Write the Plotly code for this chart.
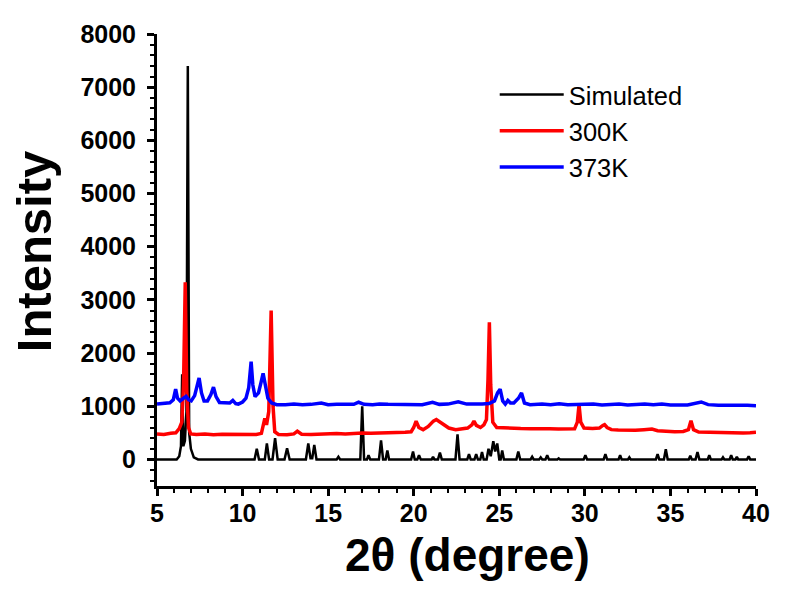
import plotly.graph_objects as go

# ---- Simulated pattern (2theta, intensity) ----
sim_x = [5.0, 6.15, 6.3, 6.4, 6.47, 6.54, 6.63, 6.72, 6.8, 6.88, 6.98, 7.15, 7.4,
         10.7, 10.83, 10.96, 11.3, 11.42, 11.55, 11.75, 11.9, 12.05, 12.45, 12.6, 12.75,
         13.7, 13.84, 13.97, 14.07, 14.19, 14.32, 15.5, 15.6, 15.7, 16.88, 16.99, 17.1,
         17.27, 17.36, 17.46, 17.97, 18.09, 18.21, 18.36, 18.46, 18.56, 19.85, 19.96, 20.06,
         20.21, 20.31, 20.41, 21.05, 21.13, 21.21, 21.42, 21.53, 21.64, 22.44, 22.56, 22.68,
         23.13, 23.23, 23.33, 23.55, 23.65, 23.75, 23.89, 23.99, 24.09, 24.26, 24.37, 24.5,
         24.65, 24.76, 24.88, 25.0, 25.08, 25.17, 25.27, 26.0, 26.11, 26.22, 26.83, 26.92,
         27.01, 27.33, 27.42, 27.51, 27.7, 27.8, 27.9, 28.4, 28.47, 28.55, 29.93, 30.03,
         30.13, 31.1, 31.2, 31.3, 31.97, 32.06, 32.15, 32.52, 32.6, 32.68, 34.15, 34.25,
         34.35, 34.62, 34.73, 34.84, 36.07, 36.16, 36.25, 36.47, 36.58, 36.69, 37.18, 37.27,
         37.36, 37.99, 38.07, 38.15, 38.46, 38.55, 38.64, 38.8, 38.88, 38.96, 39.48, 39.57,
         39.66, 40.0]
sim_y = [0, 0, 60, 250, 1600, 250, 350, 900, 7400, 500, 200, 40, 0,
         0, 200, 0, 0, 300, 0, 0, 400, 0, 0, 210, 0,
         0, 300, 20, 20, 270, 0, 0, 50, 0, 0, 1000, 0,
         0, 80, 0, 0, 360, 0, 0, 170, 0, 0, 150, 0,
         0, 80, 0, 0, 50, 0, 0, 130, 0, 0, 470, 0,
         0, 100, 0, 0, 100, 0, 0, 140, 0, 0, 200, 60,
         340, 150, 300, 0, 0, 170, 0, 0, 150, 0, 0, 50,
         0, 0, 40, 0, 0, 80, 0, 0, 20, 0, 0, 80,
         0, 0, 100, 0, 0, 80, 0, 0, 40, 0, 0, 100,
         0, 0, 190, 0, 0, 70, 0, 0, 140, 0, 0, 80,
         0, 0, 40, 0, 0, 80, 0, 0, 50, 0, 0, 60,
         0, 0]

# ---- 300K pattern ----
k300_x = [5.0, 5.4, 5.8, 6.1, 6.3, 6.45, 6.55, 6.65, 6.74, 6.84, 6.97, 7.3, 7.8, 8.3, 8.8,
          9.3, 9.8, 10.3, 10.8, 11.1, 11.23, 11.3, 11.4, 11.53, 11.67, 11.78, 11.88, 12.1,
          12.6, 13.0, 13.2, 13.45, 14.0, 14.5, 15.0, 15.5, 16.0, 16.5, 17.0, 17.5, 18.0,
          18.5, 19.0, 19.5, 19.85, 20.0, 20.14, 20.3, 20.55, 20.85, 21.15, 21.32, 21.55,
          21.75, 22.05, 22.45, 22.85, 23.15, 23.4, 23.52, 23.66, 23.9, 24.1, 24.25, 24.34,
          24.42, 24.5, 24.62, 24.85, 25.25, 25.75, 26.25, 26.85, 27.45, 27.95, 28.45, 28.95,
          29.4, 29.56, 29.66, 29.76, 29.95, 30.45, 30.85, 31.05, 31.15, 31.3, 31.55, 31.95,
          32.45, 32.95, 33.45, 33.92, 34.25, 34.75, 35.25, 35.75, 36.05, 36.2, 36.35, 36.65,
          37.15, 37.75, 38.25, 38.75, 39.25, 39.65, 40.0]
k300_y = [480, 470, 490, 500, 580, 700, 1400, 3330, 1300, 600, 480, 470, 480, 465, 475,
          470, 465, 475, 470, 490, 700, 770, 650, 900, 2800, 1000, 520, 470,
          465, 480, 530, 475, 470, 480, 475, 485, 480, 490, 495, 490, 500,
          495, 505, 510, 520, 600, 720, 600, 560, 620, 720, 750, 700,
          650, 590, 560, 570, 590, 650, 720, 640, 600, 650, 750, 1500,
          2580, 1400, 700, 600, 590, 585, 580, 578, 585, 575, 572, 570,
          575, 700, 1030, 700, 590, 580, 590, 640, 655, 600, 560, 555,
          545, 550, 560, 570, 540, 525, 520, 525, 560, 725, 560, 515,
          510, 505, 495, 500, 498, 500, 510]

# ---- 373K pattern ----
k373_x = [5.0, 5.4, 5.75, 5.95, 6.09, 6.2, 6.35, 6.55, 6.7, 6.85, 7.0, 7.2, 7.32, 7.46,
          7.6, 7.75, 7.95, 8.15, 8.3, 8.45, 8.65, 9.0, 9.25, 9.43, 9.6, 9.75, 10.0, 10.2,
          10.36, 10.5, 10.6, 10.73, 10.93, 11.08, 11.2, 11.33, 11.48, 11.7, 12.0, 12.5, 13.0,
          13.5, 14.0, 14.6, 15.0, 15.5, 16.0, 16.5, 16.78, 17.1, 17.6, 18.0, 18.5, 19.0, 19.5,
          20.0, 20.5, 21.1, 21.5, 22.0, 22.6, 23.1, 23.6, 24.0, 24.4, 24.72, 24.9, 25.05,
          25.2, 25.35, 25.5, 25.65, 25.85, 26.12, 26.3, 26.47, 26.8, 27.5, 28.0, 28.5, 29.0,
          29.5, 30.0, 30.5, 31.0, 31.5, 32.0, 32.5, 33.0, 33.5, 34.0, 34.5, 35.0, 35.5, 36.0,
          36.8, 37.2, 37.8, 38.5, 39.0, 39.5, 40.0]
k373_y = [1040, 1050, 1065, 1120, 1320, 1150, 1100, 1150, 1185, 1120, 1100, 1200, 1350, 1530,
          1250, 1100, 1100, 1220, 1360, 1180, 1070, 1060, 1060, 1110, 1050, 1040, 1080, 1150,
          1350, 1840, 1400, 1180, 1250, 1450, 1620, 1400, 1150, 1060, 1030, 1030, 1040,
          1030, 1035, 1060, 1030, 1035, 1040, 1035, 1075, 1035, 1030, 1040, 1035, 1030, 1040,
          1035, 1030, 1075, 1035, 1040, 1085, 1040, 1035, 1040, 1050, 1100, 1250, 1320,
          1100, 1040, 1110, 1060, 1060, 1150, 1250, 1060, 1030, 1040, 1030, 1045, 1030,
          1035, 1030, 1040, 1025, 1030, 1040, 1025, 1035, 1040, 1030, 1040, 1025, 1030, 1025,
          1080, 1030, 1020, 1025, 1015, 1020, 1010]

series_names = ["Simulated", "300K", "373K"]
series_colors = ["#000000", "#ff0000", "#0000ff"]
series_widths = [2.5, 3.5, 3.5]

x_ticks = [5, 10, 15, 20, 25, 30, 35, 40]
y_ticks = [0, 1000, 2000, 3000, 4000, 5000, 6000, 7000, 8000]
x_title = "2θ (degree)"
y_title = "Intensity"

fig = go.Figure()
for xs, ys, nm, col, w in zip([sim_x, k300_x, k373_x], [sim_y, k300_y, k373_y],
                              series_names, series_colors, series_widths):
    fig.add_trace(go.Scatter(x=xs, y=ys, mode="lines", name=nm,
                             line=dict(color=col, width=w)))

font_family = "Liberation Sans, Arial, sans-serif"
# page body keeps its default 8px margin, so the figure is 16px smaller than the window
fig.update_layout(
    width=774, height=574,
    margin=dict(l=149, r=17, t=23, b=96),
    plot_bgcolor="white", paper_bgcolor="white",
    font=dict(family=font_family, color="black"),
    legend=dict(x=0.5638, y=0.917, xanchor="left", yanchor="top",
                font=dict(size=25.5, family=font_family, color="black"),
                bgcolor="rgba(0,0,0,0)", borderwidth=0, itemwidth=64,
                tracegroupgap=0),
    annotations=[
        dict(text=x_title, xref="paper", yref="paper", x=0.5189, y=-0.1516,
             xanchor="center", yanchor="middle", showarrow=False,
             font=dict(size=46, family=font_family, weight="bold", color="black")),
        dict(text=y_title, xref="paper", yref="paper", x=-0.2059, y=0.5187,
             xanchor="center", yanchor="middle", showarrow=False, textangle=-90,
             font=dict(size=49, family=font_family, weight="bold", color="black")),
    ],
)
fig.update_xaxes(
    range=[5, 40], tickvals=x_ticks, ticktext=[str(v) for v in x_ticks],
    showgrid=False, zeroline=False, showline=True, linecolor="black", linewidth=3,
    ticks="outside", ticklen=7, tickwidth=2.5, tickcolor="black",
    minor=dict(dtick=1, tick0=5, ticks="outside", ticklen=4, tickwidth=2, tickcolor="black"),
    tickfont=dict(size=25, family=font_family, weight="bold", color="black"),
    ticklabelstandoff=-4,
)
fig.update_yaxes(
    range=[-500, 8000], tickvals=y_ticks, ticktext=[str(v) for v in y_ticks],
    showgrid=False, zeroline=False, showline=True, linecolor="black", linewidth=3,
    ticks="outside", ticklen=7, tickwidth=2.5, tickcolor="black",
    minor=dict(dtick=200, tick0=0, ticks="outside", ticklen=4, tickwidth=2, tickcolor="black"),
    tickfont=dict(size=25, family=font_family, weight="bold", color="black"),
    ticklabelstandoff=6,
)
fig.write_html("out.html", config={"displayModeBar": False})
